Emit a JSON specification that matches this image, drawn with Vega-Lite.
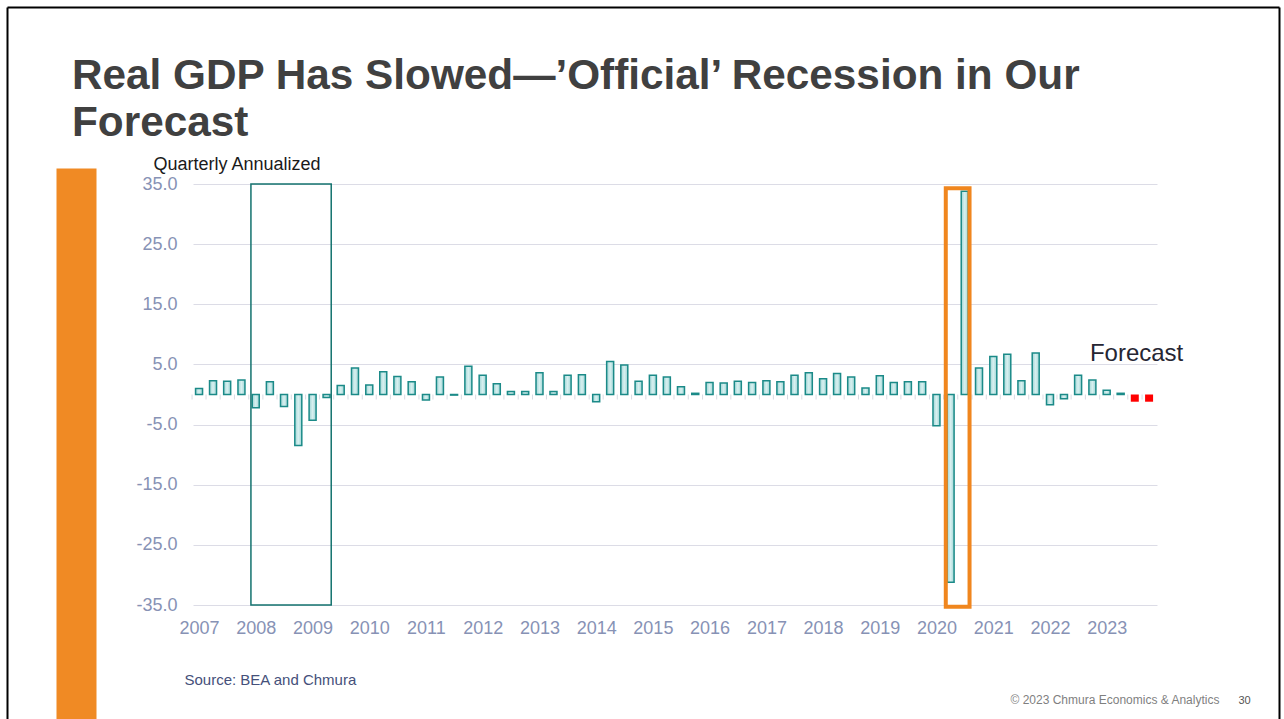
{
  "$schema": "https://vega.github.io/schema/vega-lite/v6.json",
  "width": 964,
  "height": 421,
  "autosize": "none",
  "padding": {"left": 193, "top": 184, "right": 127, "bottom": 114},
  "background": "white",
  "config": {"font": "Liberation Sans", "view": {"stroke": null}},
  "title": {
    "text": ["Real GDP Has Slowed—’Official’ Recession in Our", "Forecast"],
    "anchor": "start",
    "frame": "group",
    "orient": "top",
    "offset": 0,
    "dx": -121,
    "dy": 172,
    "baseline": "alphabetic",
    "fontSize": 42.3,
    "fontWeight": "bold",
    "color": "#404040",
    "lineHeight": 46.5
  },
  "datasets": {
    "gdp": [
      {"date": "2007-01-01", "growth": 1.0, "series": "Actual"},
      {"date": "2007-04-01", "growth": 2.3, "series": "Actual"},
      {"date": "2007-07-01", "growth": 2.2, "series": "Actual"},
      {"date": "2007-10-01", "growth": 2.4, "series": "Actual"},
      {"date": "2008-01-01", "growth": -2.2, "series": "Actual"},
      {"date": "2008-04-01", "growth": 2.1, "series": "Actual"},
      {"date": "2008-07-01", "growth": -2.0, "series": "Actual"},
      {"date": "2008-10-01", "growth": -8.5, "series": "Actual"},
      {"date": "2009-01-01", "growth": -4.3, "series": "Actual"},
      {"date": "2009-04-01", "growth": -0.5, "series": "Actual"},
      {"date": "2009-07-01", "growth": 1.5, "series": "Actual"},
      {"date": "2009-10-01", "growth": 4.4, "series": "Actual"},
      {"date": "2010-01-01", "growth": 1.6, "series": "Actual"},
      {"date": "2010-04-01", "growth": 3.8, "series": "Actual"},
      {"date": "2010-07-01", "growth": 3.0, "series": "Actual"},
      {"date": "2010-10-01", "growth": 2.1, "series": "Actual"},
      {"date": "2011-01-01", "growth": -0.9, "series": "Actual"},
      {"date": "2011-04-01", "growth": 2.9, "series": "Actual"},
      {"date": "2011-07-01", "growth": -0.1, "series": "Actual"},
      {"date": "2011-10-01", "growth": 4.7, "series": "Actual"},
      {"date": "2012-01-01", "growth": 3.2, "series": "Actual"},
      {"date": "2012-04-01", "growth": 1.8, "series": "Actual"},
      {"date": "2012-07-01", "growth": 0.5, "series": "Actual"},
      {"date": "2012-10-01", "growth": 0.5, "series": "Actual"},
      {"date": "2013-01-01", "growth": 3.6, "series": "Actual"},
      {"date": "2013-04-01", "growth": 0.5, "series": "Actual"},
      {"date": "2013-07-01", "growth": 3.2, "series": "Actual"},
      {"date": "2013-10-01", "growth": 3.3, "series": "Actual"},
      {"date": "2014-01-01", "growth": -1.2, "series": "Actual"},
      {"date": "2014-04-01", "growth": 5.5, "series": "Actual"},
      {"date": "2014-07-01", "growth": 4.9, "series": "Actual"},
      {"date": "2014-10-01", "growth": 2.2, "series": "Actual"},
      {"date": "2015-01-01", "growth": 3.2, "series": "Actual"},
      {"date": "2015-04-01", "growth": 2.9, "series": "Actual"},
      {"date": "2015-07-01", "growth": 1.3, "series": "Actual"},
      {"date": "2015-10-01", "growth": 0.2, "series": "Actual"},
      {"date": "2016-01-01", "growth": 2.0, "series": "Actual"},
      {"date": "2016-04-01", "growth": 1.9, "series": "Actual"},
      {"date": "2016-07-01", "growth": 2.2, "series": "Actual"},
      {"date": "2016-10-01", "growth": 2.0, "series": "Actual"},
      {"date": "2017-01-01", "growth": 2.3, "series": "Actual"},
      {"date": "2017-04-01", "growth": 2.1, "series": "Actual"},
      {"date": "2017-07-01", "growth": 3.2, "series": "Actual"},
      {"date": "2017-10-01", "growth": 3.6, "series": "Actual"},
      {"date": "2018-01-01", "growth": 2.6, "series": "Actual"},
      {"date": "2018-04-01", "growth": 3.5, "series": "Actual"},
      {"date": "2018-07-01", "growth": 2.9, "series": "Actual"},
      {"date": "2018-10-01", "growth": 1.1, "series": "Actual"},
      {"date": "2019-01-01", "growth": 3.1, "series": "Actual"},
      {"date": "2019-04-01", "growth": 2.0, "series": "Actual"},
      {"date": "2019-07-01", "growth": 2.1, "series": "Actual"},
      {"date": "2019-10-01", "growth": 2.1, "series": "Actual"},
      {"date": "2020-01-01", "growth": -5.2, "series": "Actual"},
      {"date": "2020-04-01", "growth": -31.2, "series": "Actual"},
      {"date": "2020-07-01", "growth": 33.8, "series": "Actual"},
      {"date": "2020-10-01", "growth": 4.4, "series": "Actual"},
      {"date": "2021-01-01", "growth": 6.3, "series": "Actual"},
      {"date": "2021-04-01", "growth": 6.7, "series": "Actual"},
      {"date": "2021-07-01", "growth": 2.3, "series": "Actual"},
      {"date": "2021-10-01", "growth": 6.9, "series": "Actual"},
      {"date": "2022-01-01", "growth": -1.7, "series": "Actual"},
      {"date": "2022-04-01", "growth": -0.7, "series": "Actual"},
      {"date": "2022-07-01", "growth": 3.2, "series": "Actual"},
      {"date": "2022-10-01", "growth": 2.4, "series": "Actual"},
      {"date": "2023-01-01", "growth": 0.7, "series": "Actual"},
      {"date": "2023-04-01", "growth": 0.2, "series": "Actual"},
      {"date": "2023-07-01", "growth": -1.2, "series": "Forecast"},
      {"date": "2023-10-01", "growth": -1.2, "series": "Forecast"}
    ],
    "recessions": [
      {"kind": "Great Recession", "start": "2007-12-01", "end": "2009-05-01", "top": 35, "bottom": -35},
      {"kind": "COVID", "start": "2020-03-01", "end": "2020-08-01", "top": 34.3, "bottom": -35.3}
    ],
    "notes": [
      {"date": "2022-09-15", "growth": 5.6, "label": "Forecast"}
    ],
    "decor": [
      {"u": 0, "v": 0}
    ]
  },
  "layer": [
    {
      "layer": [
        {
          "data": {"name": "gdp"},
          "mark": {"type": "rule", "color": "#d3d3dd", "strokeWidth": 1},
          "encoding": {
            "x": {
              "field": "date",
              "type": "temporal",
              "scale": {"domain": ["2006-11-23", "2023-11-21"], "padding": 0, "nice": false},
              "axis": {
                "format": "%Y",
                "tickCount": {"interval": "year", "step": 1},
                "labelFontSize": 18,
                "labelColor": "#8792b5",
                "labelPadding": 14,
                "labelFlush": false,
                "labelOverlap": false,
                "ticks": false,
                "domain": false,
                "grid": false,
                "title": "Source: BEA and Chmura",
                "titleX": -9,
                "titleY": 79,
                "titleAlign": "left",
                "titleBaseline": "alphabetic",
                "titleFontSize": 15,
                "titleFontWeight": "normal",
                "titleColor": "#45507a"
              }
            },
            "y": {
              "datum": 0,
              "type": "quantitative",
              "scale": {"domain": [-35, 35], "nice": false, "zero": false},
              "axis": {
                "values": [-35, -25, -15, -5, 5, 15, 25, 35],
                "labelExpr": "replace(format(datum.value, '.1f'), '\u2212', '-')",
                "labelFontSize": 18,
                "labelColor": "#8792b5",
                "labelPadding": 16,
                "ticks": false,
                "domain": false,
                "grid": true,
                "gridColor": "#dcdce6",
                "gridWidth": 1,
                "title": "Quarterly Annualized",
                "titleAngle": 0,
                "titleX": -40,
                "titleY": -15,
                "titleAlign": "left",
                "titleBaseline": "alphabetic",
                "titleFontSize": 18,
                "titleFontWeight": "normal",
                "titleColor": "#1a1a1a"
              }
            },
            "x2": {"field": "date"}
          }
        },
        {
          "data": {"name": "gdp"},
          "mark": {"type": "tick", "orient": "vertical", "size": 5, "thickness": 1, "color": "#c8cad6", "xOffset": -7, "yOffset": 2.5},
          "encoding": {
            "x": {"field": "date", "type": "temporal"},
            "y": {"datum": 0, "type": "quantitative"}
          }
        },
        {
          "data": {"name": "gdp"},
          "transform": [{"filter": "datum.series === 'Actual'"}],
          "mark": {
            "type": "bar",
            "width": 7,
            "fill": {
              "gradient": "linear",
              "x1": 0, "y1": 0, "x2": 1, "y2": 0,
              "stops": [
                {"offset": 0, "color": "#9fd5d5"},
                {"offset": 0.5, "color": "#d8f0f0"},
                {"offset": 1, "color": "#9fd5d5"}
              ]
            },
            "stroke": "#1b8a88",
            "strokeWidth": 1.5
          },
          "encoding": {
            "x": {"field": "date", "type": "temporal"},
            "y": {"field": "growth", "type": "quantitative"}
          }
        },
        {
          "data": {"name": "gdp"},
          "transform": [{"filter": "datum.series === 'Forecast'"}],
          "mark": {"type": "bar", "width": 8, "fill": "#ff0000"},
          "encoding": {
            "x": {"field": "date", "type": "temporal"},
            "y": {"field": "growth", "type": "quantitative"}
          }
        },
        {
          "data": {"name": "recessions"},
          "transform": [{"filter": "datum.kind === 'Great Recession'"}],
          "mark": {"type": "rect", "fill": "transparent", "stroke": "#14736f", "strokeWidth": 1.5},
          "encoding": {
            "x": {"field": "start", "type": "temporal"},
            "x2": {"field": "end"},
            "y": {"field": "top", "type": "quantitative"},
            "y2": {"field": "bottom"}
          }
        },
        {
          "data": {"name": "recessions"},
          "transform": [{"filter": "datum.kind === 'COVID'"}],
          "mark": {"type": "rect", "fill": "transparent", "stroke": "#f0861e", "strokeWidth": 4},
          "encoding": {
            "x": {"field": "start", "type": "temporal"},
            "x2": {"field": "end"},
            "y": {"field": "top", "type": "quantitative"},
            "y2": {"field": "bottom"}
          }
        },
        {
          "data": {"name": "notes"},
          "mark": {"type": "text", "align": "left", "baseline": "alphabetic", "fontSize": 24, "color": "#262633"},
          "encoding": {
            "x": {"field": "date", "type": "temporal"},
            "y": {"field": "growth", "type": "quantitative"},
            "text": {"field": "label"}
          }
        }
      ]
    },
    {
      "data": {"name": "decor"},
      "mark": {"type": "point", "opacity": 0},
      "encoding": {
        "x": {
          "field": "u",
          "type": "quantitative",
          "scale": {"domain": [0, 1], "range": [-193, 1091], "nice": false, "zero": false},
          "axis": {
            "orient": "top",
            "offset": 16,
            "values": [0.05919],
            "tickSize": -551,
            "tickWidth": 40,
            "tickColor": "#f08a24",
            "tickCap": "butt",
            "domain": false,
            "labels": false,
            "grid": false,
            "title": "30",
            "titleAngle": 0,
            "titleX": 1045,
            "titleY": 535,
            "titleAlign": "left",
            "titleBaseline": "alphabetic",
            "titleFontSize": 11,
            "titleFontWeight": "normal",
            "titleColor": "#555555"
          }
        },
        "y": {
          "field": "v",
          "type": "quantitative",
          "scale": {"domain": [0, 1], "range": [535, -184], "nice": false, "zero": false},
          "axis": {
            "orient": "right",
            "offset": 122,
            "values": [0.990264],
            "tickSize": -1272,
            "tickWidth": 2,
            "tickColor": "#000000",
            "domain": false,
            "labels": false,
            "grid": false,
            "title": "© 2023 Chmura Economics & Analytics",
            "titleAngle": 0,
            "titleX": -269,
            "titleY": 519,
            "titleAlign": "left",
            "titleBaseline": "alphabetic",
            "titleFontSize": 12,
            "titleFontWeight": "normal",
            "titleColor": "#7f7f7f"
          }
        }
      }
    },
    {
      "data": {"name": "decor"},
      "mark": {"type": "point", "opacity": 0},
      "encoding": {
        "x": {
          "field": "u",
          "type": "quantitative",
          "scale": {"domain": [0, 1], "range": [-193, 1091], "nice": false, "zero": false},
          "axis": {
            "orient": "top",
            "offset": 177,
            "values": [0.005452, 0.99611],
            "tickSize": -712,
            "tickWidth": 2,
            "tickColor": "#000000",
            "domain": false,
            "labels": false,
            "grid": false,
            "title": null
          }
        },
        "y": {
          "field": "v",
          "type": "quantitative",
          "scale": {"domain": [0, 1]},
          "axis": null
        }
      }
    }
  ],
  "resolve": {
    "scale": {"x": "independent", "y": "independent"},
    "axis": {"x": "independent", "y": "independent"}
  }
}
